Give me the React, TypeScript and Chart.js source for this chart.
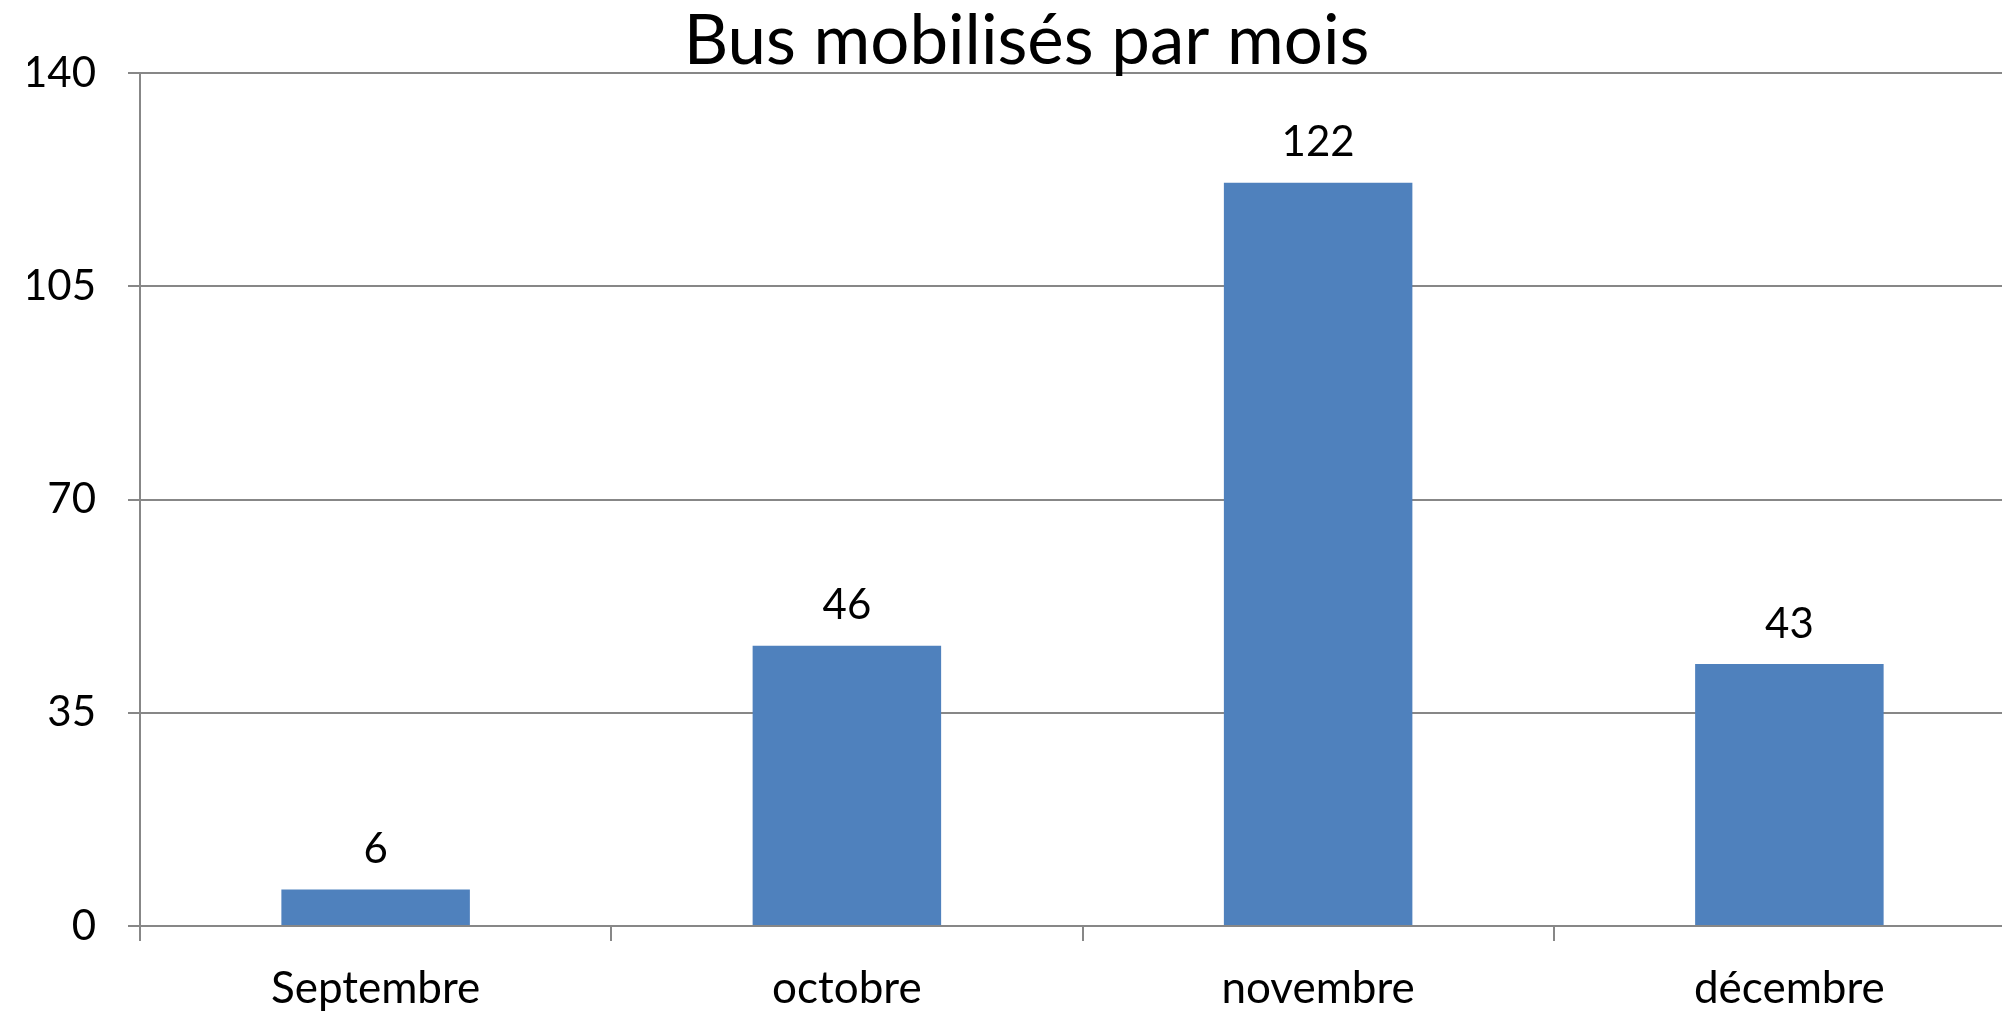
import React, { useEffect, useRef } from "react";
import { Chart, registerables } from "chart.js";

Chart.register(...registerables);

const TITLE = "Bus mobilisés par mois";
const CATEGORIES = ["Septembre", "octobre", "novembre", "décembre"];
const VALUES = [6, 46, 122, 43];
const Y_MIN = 0;
const Y_MAX = 140;
const Y_STEP = 35;

const FONT = "Lato, 'Open Sans', sans-serif";
const GRAY = "#878787";
const BAR = "#4F81BD";

const dataLabels = {
  id: "dataLabels",
  afterDatasetsDraw(chart: any) {
    const ctx = chart.ctx;
    const meta = chart.getDatasetMeta(0);
    ctx.save();
    ctx.font = `42px ${FONT}`;
    ctx.fillStyle = "#000";
    ctx.textAlign = "center";
    ctx.textBaseline = "middle";
    meta.data.forEach((el: any, i: number) => {
      ctx.fillText(String(VALUES[i]), el.x, el.y - 40);
    });
    ctx.restore();
  },
};

export default function App() {
  const ref = useRef<HTMLCanvasElement | null>(null);
  useEffect(() => {
    if (!ref.current) return;
    const chart = new Chart(ref.current, {
      type: "bar",
      data: {
        labels: CATEGORIES,
        datasets: [
          {
            data: VALUES,
            backgroundColor: BAR,
            borderWidth: 0,
            barPercentage: 0.4,
            categoryPercentage: 1,
          },
        ],
      },
      options: {
        responsive: false,
        animation: false,
        devicePixelRatio: 1,
        layout: { padding: { left: 28, right: 27, top: 0, bottom: 0 } },
        plugins: {
          legend: { display: false },
          tooltip: { enabled: false },
          title: {
            display: true,
            text: TITLE,
            color: "#000",
            font: { family: FONT, size: 69, weight: "normal", lineHeight: 0.9 },
            padding: { top: 11, bottom: 0 },
          },
        },
        scales: {
          x: {
            grid: {
              offset: true,
              drawOnChartArea: false,
              drawTicks: true,
              tickLength: 15,
              color: GRAY,
              lineWidth: 2,
            },
            border: { display: true, color: GRAY, width: 2 },
            ticks: {
              color: "#000",
              font: { family: FONT, size: 44 },
              padding: 21,
              maxRotation: 0,
            },
            afterFit(scale: any) {
              scale.height = 87;
            },
          },
          y: {
            min: Y_MIN,
            max: Y_MAX,
            grid: {
              color: GRAY,
              lineWidth: 2,
              drawTicks: true,
              tickLength: 12,
            },
            border: { display: true, color: GRAY, width: 2 },
            ticks: {
              stepSize: Y_STEP,
              color: "#000",
              font: { family: FONT, size: 42 },
              padding: 32,
            },
            afterFit(scale: any) {
              scale.width = 112;
            },
          },
        },
      },
      plugins: [dataLabels],
    } as any);
    return () => chart.destroy();
  }, []);

  return (
    <div
      style={{
        position: "fixed",
        left: 0,
        top: 0,
        width: 2002,
        height: 1013,
        overflow: "hidden",
        background: "#fff",
      }}
    >
      <canvas ref={ref} width={2052} height={1013} style={{ display: "block" }} />
    </div>
  );
}
